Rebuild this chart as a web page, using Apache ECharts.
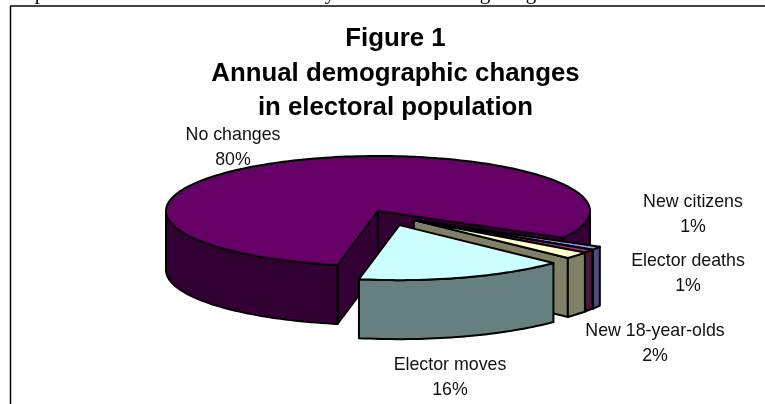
<!DOCTYPE html>
<html>
<head>
<meta charset="utf-8">
<style>html,body{margin:0;padding:0;background:#fff}#chart{width:765px;height:404px}</style>
<script src="https://cdn.jsdelivr.net/npm/echarts@6/dist/echarts.min.js"></script>
</head>
<body>
<div id="chart"></div>
<script>
// Slices run clockwise, beginning where the cut of the largest slice ends.
const categories = ['New citizens', 'Elector deaths', 'New 18-year-olds', 'Elector moves', 'No changes'];
const shares = [1, 1, 2, 16, 80];
const topColors = ['#9999FF', '#993366', '#FFFFCC', '#CCFFFF', '#660066'];
const sideColors = ['#4C4C80', '#4C1933', '#808066', '#668080', '#330033'];
const paintOrder = [4, 0, 1, 2, 3];
const explodeX = [0.2, 0.205, 0.22, 0.33, 0];
const explodeY = [0.32, 0.29, 0.26, 0.27, 0];
const labelCenters = [[693, 215], [688, 274], [655, 344], [450, 378], [233, 148]];
const titleLines = ['Figure 1', 'Annual demographic changes', 'in electoral population'];
const bodyGlyphs = [['p', 40], ['y', 330], ['g', 485], ['g', 531]];

// Geometry of the tilted pie
const CX = 378, CY = 211, RX = 212, RY = 55, DEPTH = 59, START_DEG = 119;
const STEP = 1.5;
const total = shares.reduce((a, b) => a + b, 0);
const ranges = [];
shares.reduce((acc, v) => {
  ranges.push([acc, acc + v / total * 360]);
  return acc + v / total * 360;
}, START_DEG);

const rad = d => d * Math.PI / 180;
const rim = (d, ox, oy, dz) => [ox + RX * Math.sin(rad(d)), oy - RY * Math.cos(rad(d)) + dz];
const stroke = { stroke: '#000', lineWidth: 2, lineJoin: 'round' };

function arcPoints(a, b, ox, oy, dz) {
  const pts = [];
  const n = Math.max(2, Math.ceil((b - a) / STEP));
  for (let i = 0; i <= n; i++) pts.push(rim(a + (b - a) * i / n, ox, oy, dz));
  return pts;
}
function polygon(points, fill) {
  return { type: 'polygon', shape: { points }, style: Object.assign({ fill }, stroke) };
}
// Outer wall pieces are limited to the half of the rim that faces the viewer.
function frontWalls(a, b, ox, oy, fill) {
  const out = [];
  for (let k = -1; k <= 1; k++) {
    const lo = Math.max(a, 90 + 360 * k), hi = Math.min(b, 270 + 360 * k);
    if (hi > lo) {
      const upper = arcPoints(lo, hi, ox, oy, 0);
      const lower = arcPoints(lo, hi, ox, oy, DEPTH).reverse();
      out.push(polygon(upper.concat(lower), fill));
    }
  }
  return out;
}
function radialFace(d, ox, oy, fill) {
  const p = rim(d, ox, oy, 0);
  return polygon([[ox, oy], p, [p[0], p[1] + DEPTH], [ox, oy + DEPTH]], fill);
}

function renderSlice(params) {
  const i = paintOrder[params.dataIndex];
  const [a, b] = ranges[i];
  const mid = (a + b) / 2;
  const ox = CX + RX * Math.sin(rad(mid)) * explodeX[i];
  const oy = CY - RY * Math.cos(rad(mid)) * explodeY[i];
  const side = sideColors[i];
  const children = [];
  // Back faces first, then rim, then the lid.
  if (Math.cos(rad(b + 90)) < 0) children.push(radialFace(b, ox, oy, side));
  if (Math.cos(rad(a - 90)) < 0) children.push(radialFace(a, ox, oy, side));
  children.push(...frontWalls(a, b, ox, oy, side));
  children.push(polygon([[ox, oy]].concat(arcPoints(a, b, ox, oy, 0)), topColors[i]));
  children.push({
    type: 'text',
    style: {
      x: labelCenters[i][0], y: labelCenters[i][1],
      text: categories[i] + '\n' + shares[i] + '%',
      fill: '#111', font: '17.8px "Liberation Sans", Arial, sans-serif',
      lineHeight: 25, align: 'center', verticalAlign: 'middle'
    }
  });
  return { type: 'group', children };
}

const chart = echarts.init(document.getElementById('chart'), null, { renderer: 'canvas' });
chart.setOption({
  animation: false,
  backgroundColor: '#fff',
  title: {
    text: titleLines.join('\n'),
    left: 390.5, top: 17, textAlign: 'center',
    textStyle: {
      fontFamily: '"Liberation Sans", Arial, sans-serif',
      fontWeight: 'bold', fontSize: 25.8, lineHeight: 34.5, color: '#000'
    }
  },
  graphic: [
    { type: 'line', shape: { x1: 10, y1: 6, x2: 765, y2: 6 }, style: { stroke: '#444', lineWidth: 2 } },
    { type: 'line', shape: { x1: 10.5, y1: 6, x2: 10.5, y2: 404 }, style: { stroke: '#000', lineWidth: 1.5 } }
  ].concat(bodyGlyphs.map(([ch, x]) => ({
    type: 'text', x, y: 4,
    style: { text: ch, fill: '#000', font: '21px "Liberation Serif", serif', align: 'center', verticalAlign: 'bottom' }
  }))),
  series: [{
    type: 'custom',
    coordinateSystem: 'none',
    renderItem: renderSlice,
    silent: true,
    data: paintOrder.map(i => ({ name: categories[i], value: shares[i] }))
  }]
});
</script>
</body>
</html>
